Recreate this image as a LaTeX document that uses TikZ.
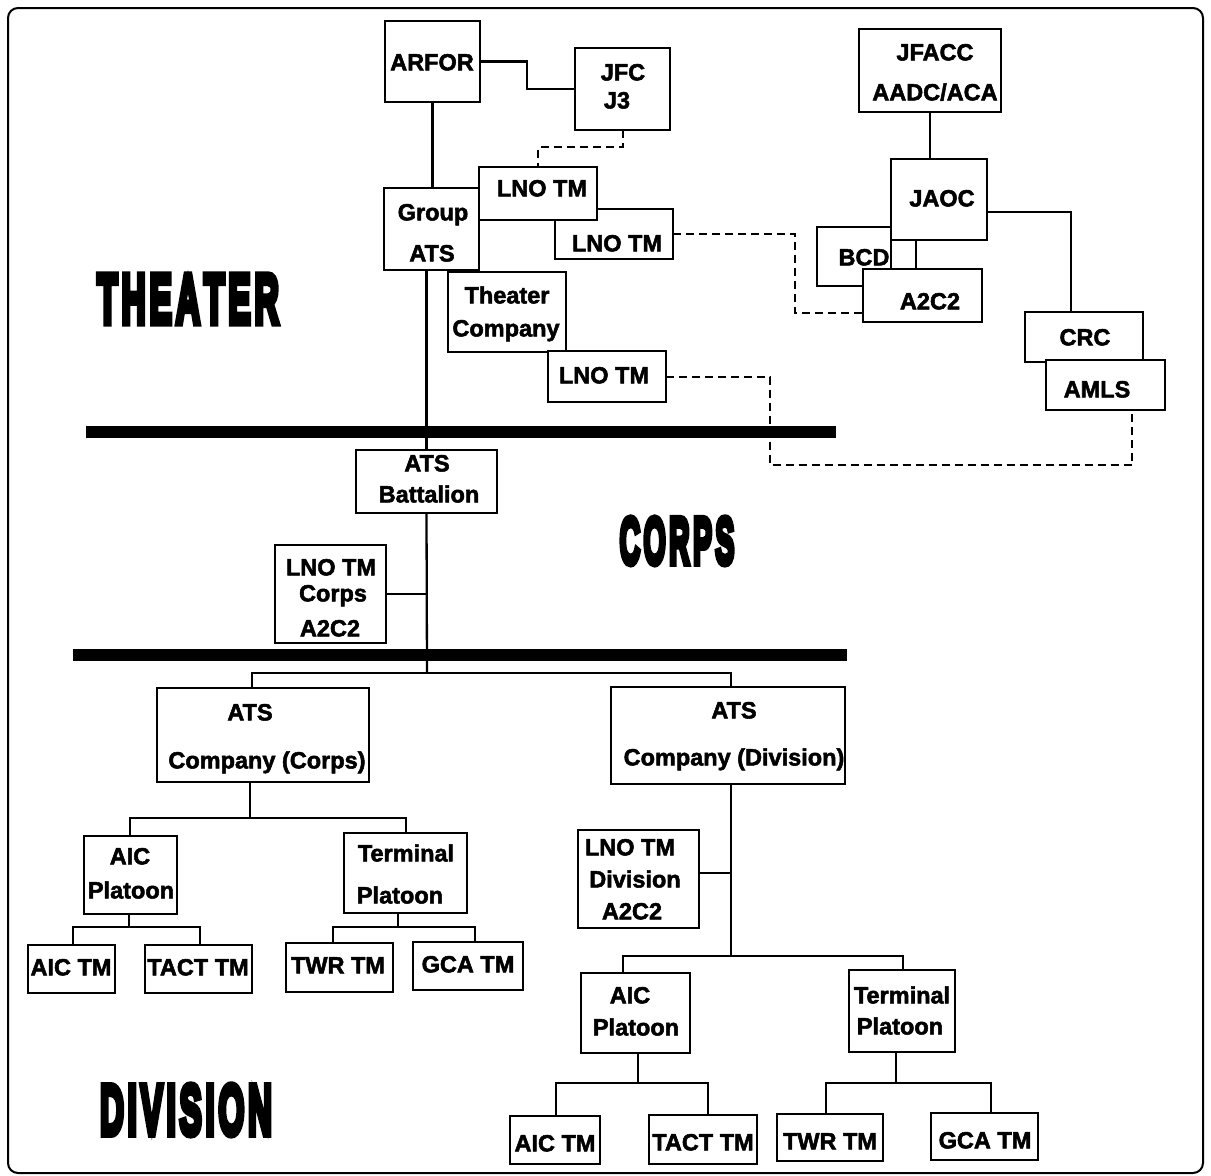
\documentclass[tikz,border=0pt]{standalone}
\usepackage{fontspec}
\usepackage{graphicx}
\setmainfont[BoldFeatures={FakeBold=2.2}]{Liberation Sans}
\newfontfamily\heavyfont[BoldFeatures={FakeBold=10}]{Liberation Sans}
\newcommand{\bx}[5]{\node[boxst, minimum width={(#4-#2)*1pt}, minimum height={(#5-#3)*1pt}] (#1) at ({(#2+#4)/2},{(#3+#5)/2}) {};}
\newcommand{\tx}[4]{\node[txt] (#1) at (#2,#3) {#4};}
\newcommand{\ks}{\kern8pt}
\tikzset{
  boxst/.style={draw, fill=white, line width=2.3pt, inner sep=0pt, outer sep=0pt},
  txt/.style={font=\bfseries\fontsize{23.5}{28}\selectfont, inner sep=0pt, text height=16.8pt, text depth=0pt},
  conn/.style={line width=2.3pt},
  dsh/.style={line width=2pt, dash pattern=on 8pt off 5pt},
  heavy/.style={font=\heavyfont\bfseries, inner sep=0pt, text depth=0pt}
}
\begin{document}
\begin{tikzpicture}[x=1pt,y=-1pt]
\useasboundingbox (0,0) rectangle (1211,1176);
\draw[line width=2pt, rounded corners=10pt] (8,8) rectangle (1203,1173);

% bars
\fill (86,426) rectangle (836,438);
\fill (73,649) rectangle (847,661);

% boxes (back to front)
\bx{arfor}{385}{21}{480}{102}
\bx{jfc}{575}{48}{670}{130}
\bx{lnob}{555}{209}{673}{259}
\bx{lnoa}{479}{167}{597}{220}
\bx{grp}{384}{188}{479}{270}
\bx{thco}{448}{272}{566}{352}
\bx{lnoc}{548}{351}{666}{402}
\bx{jfacc}{859}{29}{1001}{112}
\bx{bcd}{817}{227}{891}{286}
\bx{jaoc}{891}{159}{987}{240}
\bx{atwo}{863}{269}{982}{322}
\bx{crc}{1025}{312}{1143}{362}
\bx{amls}{1046}{360}{1165}{410}
\bx{atsbn}{356}{450}{497}{513}
\bx{lnocorps}{275}{545}{386}{643}
\bx{coc}{157}{688}{369}{782}
\bx{cod}{611}{687}{845}{784}
\bx{aicpa}{84}{836}{177}{914}
\bx{termpa}{344}{833}{467}{913}
\bx{aictma}{28}{945}{115}{993}
\bx{tacttma}{145}{945}{252}{993}
\bx{twrtma}{286}{943}{393}{992}
\bx{gcatma}{413}{942}{523}{990}
\bx{lnodiv}{578}{830}{699}{928}
\bx{aicpb}{581}{973}{690}{1053}
\bx{termpb}{849}{970}{955}{1052}
\bx{aictmb}{510}{1116}{600}{1164}
\bx{tacttmb}{649}{1115}{757}{1164}
\bx{twrtmb}{777}{1114}{883}{1161}
\bx{gcatmb}{931}{1113}{1038}{1160}

% helper coordinates
\coordinate (d1) at (538,147);
\coordinate (d2) at (795,313);
\coordinate (d3a) at (770,465);
\coordinate (d3b) at (1132,465);
\coordinate (c3) at (916,250);
\coordinate (c4) at (1071,212);
\coordinate (b1) at (427,673);
\coordinate (b1l) at (252,673);
\coordinate (b1r) at (731,673);
\coordinate (b2) at (250,818);
\coordinate (b2l) at (130,818);
\coordinate (b2r) at (406,818);
\coordinate (b3) at (129,927);
\coordinate (b3l) at (73,927);
\coordinate (b3r) at (200,927);
\coordinate (b4) at (398,927);
\coordinate (b4l) at (333,927);
\coordinate (b4r) at (475,927);
\coordinate (b5) at (731,956);
\coordinate (b5l) at (623,956);
\coordinate (b5r) at (903,956);
\coordinate (c5) at (731,873);
\coordinate (b6) at (638,1083);
\coordinate (b6l) at (556,1083);
\coordinate (b6r) at (708,1083);
\coordinate (b7) at (896,1083);
\coordinate (b7l) at (826,1083);
\coordinate (b7r) at (991,1083);

% solid connectors
\draw[conn] (arfor.east) -- ++(47,0) |- (jfc.west);
\draw[conn] (arfor.south) -- (arfor.south |- grp.north);
\draw[conn] (atsbn.north |- grp.south) -- (atsbn.north);
\draw[conn] (jfacc.south) -- (jfacc.south |- jaoc.north);
\draw[conn] (c3 |- jaoc.south) -- (c3 |- atwo.north);
\draw[conn] (c4 -| jaoc.east) -- (c4) -- (c4 |- crc.north);
\draw[conn] (atsbn.south) -- (b1);
\draw[conn] (b1l |- coc.north) -- (b1l) -- (b1r) -- (b1r |- cod.north);
\draw[conn] (lnocorps.east) -- (lnocorps.east -| b1);
\draw[conn] (b2 |- coc.south) -- (b2);
\draw[conn] (b2l |- aicpa.north) -- (b2l) -- (b2r) -- (b2r |- termpa.north);
\draw[conn] (b3 |- aicpa.south) -- (b3);
\draw[conn] (b3l |- aictma.north) -- (b3l) -- (b3r) -- (b3r |- tacttma.north);
\draw[conn] (b4 |- termpa.south) -- (b4);
\draw[conn] (b4l |- twrtma.north) -- (b4l) -- (b4r) -- (b4r |- gcatma.north);
\draw[conn] (b5 |- cod.south) -- (b5);
\draw[conn] (c5 -| lnodiv.east) -- (c5);
\draw[conn] (b5l |- aicpb.north) -- (b5l) -- (b5r) -- (b5r |- termpb.north);
\draw[conn] (b6 |- aicpb.south) -- (b6);
\draw[conn] (b6l |- aictmb.north) -- (b6l) -- (b6r) -- (b6r |- tacttmb.north);
\draw[conn] (b7 |- termpb.south) -- (b7);
\draw[conn] (b7l |- twrtmb.north) -- (b7l) -- (b7r) -- (b7r |- gcatmb.north);

% dashed connectors
\draw[dsh] (jfc.south) |- (d1) -- (d1 |- lnoa.north);
\draw[dsh] (lnob.east) -| (d2) -- (d2 -| atwo.west);
\draw[dsh] (lnoc.east) -| (d3a) -- (d3b) -- (d3b |- amls.south);

% texts
\tx{t1}{432}{62}{ARFOR}
\tx{t2}{623}{72}{JFC}
\tx{t3}{617}{100}{J3}
\tx{t4}{542}{188}{LNO TM}
\tx{t5}{433}{212}{Group}
\tx{t6}{432}{253}{ATS}
\tx{t7}{617}{243}{LNO TM}
\tx{t8}{507}{295}{Theater}
\tx{t9}{506}{328}{Company}
\tx{t10}{604}{375}{LNO TM}
\tx{t11}{935}{52}{JFACC}
\tx{t12}{935}{92}{AADC/ACA}
\tx{t13}{942}{198}{JAOC}
\tx{t14}{864}{257}{BCD}
\tx{t15}{930}{301}{A2C2}
\tx{t16}{1085}{337}{CRC}
\tx{t17}{1097}{389}{AMLS}
\tx{t18}{427}{463}{ATS}
\tx{t19}{429}{494}{Battalion}
\tx{t20}{331}{567}{LNO TM}
\tx{t21}{333}{593}{Corps}
\tx{t22}{330}{628}{A2C2}
\tx{t23}{250}{712}{ATS}
\tx{t24}{267}{760}{Company (Corps)}
\tx{t25}{734}{710}{ATS}
\tx{t26}{734}{757}{Company (Division)}
\tx{t27}{130}{856}{AIC}
\tx{t28}{131}{890}{Platoon}
\tx{t29}{406}{853}{Terminal}
\tx{t30}{400}{895}{Platoon}
\tx{t31}{71}{967}{AIC TM}
\tx{t32}{198}{967}{TACT TM}
\tx{t33}{338}{965}{TWR TM}
\tx{t34}{468}{964}{GCA TM}
\tx{t35}{630}{847}{LNO TM}
\tx{t36}{635}{879}{Division}
\tx{t37}{632}{911}{A2C2}
\tx{t38}{630}{995}{AIC}
\tx{t39}{636}{1027}{Platoon}
\tx{t40}{902}{995}{Terminal}
\tx{t41}{900}{1026}{Platoon}
\tx{t42}{555}{1143}{AIC TM}
\tx{t43}{703}{1142}{TACT TM}
\tx{t44}{830}{1141}{TWR TM}
\tx{t45}{985}{1140}{GCA TM}

% big level labels
\node[heavy, text height=50pt] (theater) at (188,298) {\scalebox{0.48}[1]{\fontsize{70}{70}\selectfont T\ks H\ks E\ks A\ks T\ks E\ks R}};
\node[heavy, text height=47.3pt] (corps) at (677,540) {\scalebox{0.43}[1]{\fontsize{66}{66}\selectfont C\ks O\ks R\ks P\ks S}};
\node[heavy, text height=50.8pt] (division) at (186,1109) {\scalebox{0.468}[1]{\fontsize{71}{71}\selectfont D\ks I\ks V\ks I\ks S\ks I\ks O\ks N}};
\end{tikzpicture}
\end{document}
